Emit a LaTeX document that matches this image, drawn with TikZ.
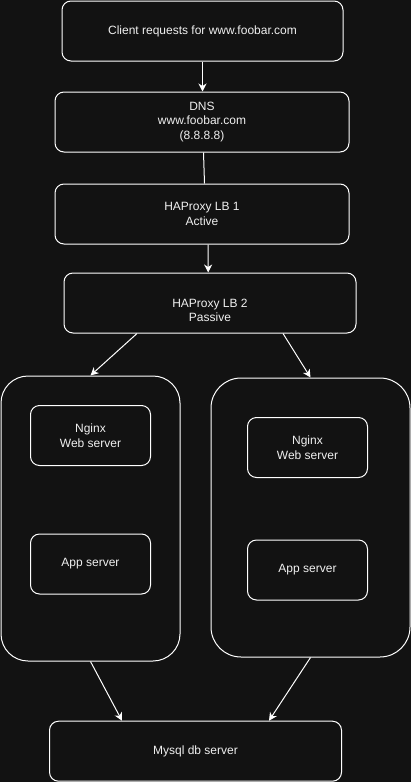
\documentclass[tikz,border=0pt]{standalone}
\usepackage{fontspec}
\setmainfont{Liberation Sans}
\usetikzlibrary{arrows.meta}
\definecolor{bgc}{HTML}{121212}
\definecolor{fgc}{HTML}{F0F0F0}
\tikzset{
  boxtext/.style={text=fgc, align=center, inner sep=0pt, font=\fontsize{12}{14.5}\selectfont},
  box/.style={boxtext, draw=white, line width=1pt, fill=bgc, rounded corners=9pt},
  bigbox/.style={draw=white, line width=1pt, fill=bgc, inner sep=0pt},
  conn/.style={draw=white, line width=1pt},
  arr/.style={conn, -{Stealth[length=8pt,width=8pt,inset=2.5pt]}}
}
\begin{document}
\begin{tikzpicture}[x=1pt,y=-1pt]
\useasboundingbox[fill=bgc] (0,0) rectangle (411,782);
\node[box, minimum width=281pt, minimum height=60pt] (client) at (202.5,31) {Client requests for www.foobar.com};
\node[box, minimum width=294pt, minimum height=60pt] (dns) at (202,122) {DNS\\www.foobar.com\\(8.8.8.8)};
\node[box, minimum width=294pt, minimum height=60pt] (lb1) at (202,214) {HAProxy LB 1\\Active};
\node[box, minimum width=292pt, minimum height=60pt,
  label={[boxtext, yshift=-7.5pt]center:HAProxy LB 2\\Passive}] (lb2) at (210,303) {};
\node[bigbox, rounded corners=27pt, minimum width=179pt, minimum height=285pt] (srv1) at (90.5,518.5) {};
\node[bigbox, rounded corners=30pt, minimum width=199pt, minimum height=279pt] (srv2) at (310.5,517.5) {};
\node[box, minimum width=120pt, minimum height=60pt] (ng1) at (90.5,435.5) {Nginx\\Web server};
\node[box, minimum width=120pt, minimum height=60pt] (app1) at (90.5,564) {App server};
\node[box, minimum width=120pt, minimum height=60pt] (ng2) at (307.5,447.5) {Nginx\\Web server};
\node[box, minimum width=120pt, minimum height=60pt] (app2) at (307.5,570) {App server};
\node[box, minimum width=292pt, minimum height=60pt] (db) at (195.5,751.2) {Mysql db server};

\draw[arr] (client.south) -- (client.south |- dns.north);
\draw[conn] ([xshift=1.5pt]dns.south) -- ([xshift=2.5pt]lb1.north);
\draw[arr] ([xshift=6pt]lb1.south) -- ([xshift=-1.8pt]lb2.north);
\draw[arr] ([xshift=-73pt]lb2.south) -- (srv1.north);
\draw[arr] ([xshift=73pt]lb2.south) -- (srv2.north);
\draw[arr] (srv1.south) -- ([xshift=-73.5pt]db.north);
\draw[arr] (srv2.south) -- ([xshift=73.5pt]db.north);
\end{tikzpicture}
\end{document}
